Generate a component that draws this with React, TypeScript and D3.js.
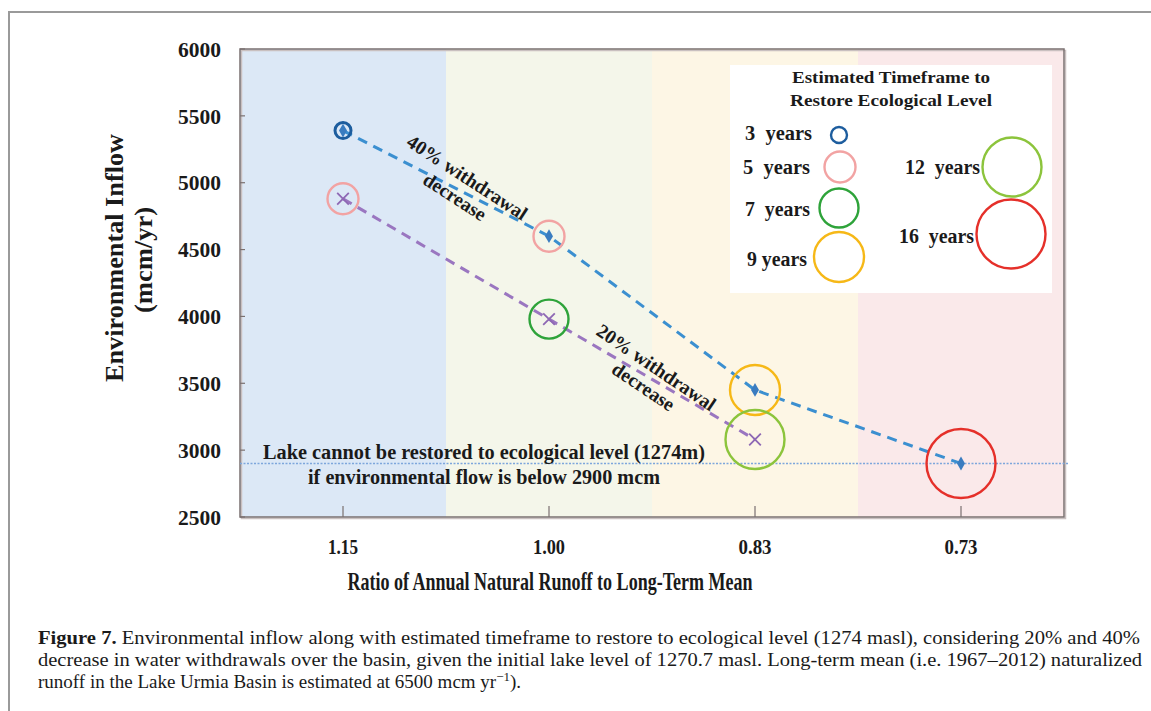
import * as d3 from 'd3';

// ratio of annual natural runoff to long-term mean
const categories = ['1.15', '1.00', '0.83', '0.73'];
const bandColors = ['#dce8f6', '#f4f6ea', '#fdf6e5', '#fae9ea'];

// environmental inflow (mcm/yr) per scenario
const withdrawal40 = [5390, 4600, 3450, 2900];
const withdrawal20 = [4880, 3980, 3080];
// years needed to restore the lake at each point
const years40 = [3, 5, 9, 16];
const years20 = [5, 7, 12];

const yTicks = [2500, 3000, 3500, 4000, 4500, 5000, 5500, 6000];
const threshold = 2900;

const timeframes = [3, 5, 7, 9, 12, 16];
const timeframeColors = ['#1d5d9e', '#f2a3a3', '#2ea33a', '#f6b817', '#8cc43c', '#e5302a'];
const timeframeRadius = [8, 15.5, 19.5, 25, 29.5, 34.5];

const caption1 = ' Environmental inflow along with estimated timeframe to restore to ecological level (1274 masl), considering 20% and 40%';
const caption2 = 'decrease in water withdrawals over the basin, given the initial lake level of 1270.7 masl. Long-term mean (i.e. 1967\u20132012) naturalized';

const W = 1151;
const H = 711;
const plot = { left: 240, right: 1064, top: 49, bottom: 517 };
const serif = '"Liberation Serif", "Times New Roman", serif';
const xLabelWidths = [30, 32, 33, 33];

// legend entries: label position and circle centre
const legendLayout = [
  { lx: 745, ly: 140, lw: 67, cx: 839, cy: 135 },
  { lx: 743, ly: 174, lw: 67, cx: 840, cy: 167 },
  { lx: 745, ly: 216, lw: 65, cx: 839, cy: 208 },
  { lx: 747, ly: 266, lw: 60, cx: 839, cy: 257 },
  { lx: 905, ly: 174, lw: 75, cx: 1012, cy: 167 },
  { lx: 899, ly: 243, lw: 75, cx: 1011, cy: 234 },
];

export default function App() {
  const x = d3.scaleBand<string>().domain(categories).range([plot.left, plot.right]).padding(0);
  const y = d3.scaleLinear().domain([2500, 6000]).range([plot.bottom, plot.top]);
  const cx = (c: string) => (x(c) ?? 0) + x.bandwidth() / 2;

  const line = d3
    .line<number>()
    .x((_, i) => cx(categories[i]))
    .y((d) => y(d));

  const diamond = d3.symbol().type(d3.symbolDiamond).size(55)();
  const cross = d3.symbol().type(d3.symbolTimes).size(90)();

  const ring = (yrs: number) => {
    const i = timeframes.indexOf(yrs);
    return { color: timeframeColors[i], r: timeframeRadius[i] };
  };

  const yThr = y(threshold);
  const yTitleMid = 258;

  return (
    <svg width={W} height={H} style={{ position: 'absolute', left: 0, top: 0, background: '#fff' }} fontFamily={serif}>
      {/* page frame */}
      <path d={`M9,${H} V12 H${W}`} fill="none" stroke="#9a9a9a" strokeWidth={2} />

      {/* category bands */}
      {categories.map((c, i) => (
        <rect key={c} x={x(c)} y={plot.top} width={x.bandwidth()} height={plot.bottom - plot.top} fill={bandColors[i]} />
      ))}
      <rect x={plot.left + 1.5} y={plot.top + 1.5} width={plot.right - plot.left} height={plot.bottom - plot.top} fill="none" stroke="#c9c0c0" strokeWidth={1.5} />
      <rect x={plot.left} y={plot.top} width={plot.right - plot.left} height={plot.bottom - plot.top} fill="none" stroke="#7a7070" strokeWidth={1.5} />

      {/* y ticks */}
      {yTicks.map((t) => (
        <g key={t}>
          <line x1={plot.left} x2={plot.left + 5} y1={y(t)} y2={y(t)} stroke="#7a7070" strokeWidth={1.2} />
          <text x={221} y={y(t)} dy="0.35em" textAnchor="end" fontSize={22} fontWeight="bold" fill="#1a1a1a" textLength={43} lengthAdjust="spacingAndGlyphs">
            {t}
          </text>
        </g>
      ))}

      {/* x ticks */}
      {categories.map((c, i) => (
        <g key={c}>
          <line x1={cx(c)} x2={cx(c)} y1={plot.bottom} y2={plot.bottom - 11} stroke="#7a7070" strokeWidth={1.2} />
          <text x={cx(c)} y={554} textAnchor="middle" fontSize={21} fontWeight="bold" fill="#1a1a1a" textLength={xLabelWidths[i]} lengthAdjust="spacingAndGlyphs">
            {c}
          </text>
        </g>
      ))}

      {/* threshold */}
      <line x1={plot.left} x2={plot.right + 4} y1={yThr} y2={yThr} stroke="#7da6dc" strokeWidth={1.5} strokeDasharray="2 1.5" />
      <text x={484} y={yThr - 5} textAnchor="middle" fontSize={20} fontWeight="bold" fill="#1a1a1a" textLength={442} lengthAdjust="spacingAndGlyphs">
        Lake cannot be restored to ecological level (1274m)
      </text>
      <text x={484} y={yThr + 20} textAnchor="middle" fontSize={20} fontWeight="bold" fill="#1a1a1a" textLength={352} lengthAdjust="spacingAndGlyphs">
        if environmental flow is below 2900 mcm
      </text>

      {/* scenario lines */}
      <path d={line(withdrawal40) ?? ''} fill="none" stroke="#3b8fd0" strokeWidth={3} strokeDasharray="10 7" />
      <path d={line(withdrawal20) ?? ''} fill="none" stroke="#9a76c0" strokeWidth={3} strokeDasharray="10 7" />

      {withdrawal40.map((v, i) => (
        <path key={`d${i}`} d={diamond} transform={`translate(${cx(categories[i])},${y(v)})`} fill="#3a7cc0" />
      ))}
      {withdrawal20.map((v, i) => (
        <path key={`x${i}`} d={cross} transform={`translate(${cx(categories[i])},${y(v)})`} fill="none" stroke="#8e68b4" strokeWidth={1.8} />
      ))}

      {/* timeframe rings */}
      {withdrawal40.map((v, i) => {
        const r = ring(years40[i]);
        return <circle key={`r40${i}`} cx={cx(categories[i])} cy={y(v)} r={r.r} fill="none" stroke={r.color} strokeWidth={years40[i] === 3 ? 3 : 2.4} />;
      })}
      {withdrawal20.map((v, i) => {
        const r = ring(years20[i]);
        return <circle key={`r20${i}`} cx={cx(categories[i])} cy={y(v)} r={r.r} fill="none" stroke={r.color} strokeWidth={2.4} />;
      })}

      {/* scenario annotations */}
      <g transform="translate(467,178) rotate(33)" fontSize={19.5} fontWeight="bold" fill="#1a1a1a" textAnchor="middle">
        <text y={6}>40% withdrawal</text>
        <text y={29}>decrease</text>
      </g>
      <g transform="translate(656,368) rotate(34)" fontSize={19.5} fontWeight="bold" fill="#1a1a1a" textAnchor="middle">
        <text y={6}>20% withdrawal</text>
        <text y={29}>decrease</text>
      </g>

      {/* legend */}
      <rect x={730} y={65} width={322} height={228} fill="#ffffff" />
      <text x={891} y={83} textAnchor="middle" fontSize={17} fontWeight="bold" fill="#1a1a1a" textLength={198} lengthAdjust="spacingAndGlyphs">
        Estimated Timeframe to
      </text>
      <text x={891} y={106} textAnchor="middle" fontSize={17} fontWeight="bold" fill="#1a1a1a" textLength={202} lengthAdjust="spacingAndGlyphs">
        Restore Ecological Level
      </text>
      {timeframes.map((t, i) => {
        const l = legendLayout[i];
        return (
          <g key={t}>
            <text x={l.lx} y={l.ly} fontSize={20} fontWeight="bold" fill="#1a1a1a" style={{ whiteSpace: 'pre' }} textLength={l.lw} lengthAdjust="spacingAndGlyphs">
              {t === 9 ? `${t} years` : `${t}  years`}
            </text>
            <circle cx={l.cx} cy={l.cy} r={timeframeRadius[i]} fill="none" stroke={timeframeColors[i]} strokeWidth={2.4} />
          </g>
        );
      })}

      {/* axis titles */}
      <text transform={`translate(123,${yTitleMid}) rotate(-90)`} textAnchor="middle" fontSize={26} fontWeight="bold" fill="#1a1a1a" textLength={248} lengthAdjust="spacingAndGlyphs">
        Environmental Inflow
      </text>
      <text transform={`translate(152,${yTitleMid + 2}) rotate(-90)`} textAnchor="middle" fontSize={26} fontWeight="bold" fill="#1a1a1a" textLength={106} lengthAdjust="spacingAndGlyphs">
        (mcm/yr)
      </text>
      <text x={550} y={590} textAnchor="middle" fontSize={25} fontWeight="bold" fill="#1a1a1a" textLength={405} lengthAdjust="spacingAndGlyphs">
        Ratio of Annual Natural Runoff to Long-Term Mean
      </text>

      {/* caption */}
      <g fontSize={19} fill="#1a1a1a">
        <text x={38} y={644} textLength={1102} lengthAdjust="spacingAndGlyphs">
          <tspan fontWeight="bold">Figure 7.</tspan>
          {caption1}
        </text>
        <text x={38} y={666} textLength={1104} lengthAdjust="spacingAndGlyphs">
          {caption2}
        </text>
        <text x={38} y={688}>
          runoff in the Lake Urmia Basin is estimated at 6500 mcm yr
          <tspan fontSize={13} dy={-7}>{'\u22121'}</tspan>
          <tspan dy={7}>).</tspan>
        </text>
      </g>
    </svg>
  );
}
